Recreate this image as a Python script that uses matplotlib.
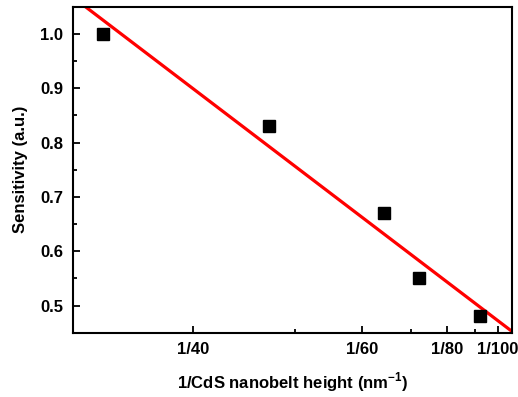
import numpy as np
import matplotlib
matplotlib.use("Agg")
import matplotlib.pyplot as plt

# Data
heights_nm = [34, 47, 64, 72, 92]          # CdS nanobelt height (nm)
sensitivity = [1.00, 0.83, 0.67, 0.55, 0.48]
tick_heights = [40, 60, 80, 100]
tick_labels = ["1/40", "1/60", "1/80", "1/100"]
minor_heights = [50, 70, 90]

plt.rcParams['font.family'] = ['Liberation Sans', 'DejaVu Sans']
plt.rcParams['font.weight'] = 'bold'
plt.rcParams['mathtext.fontset'] = 'custom'
plt.rcParams['mathtext.rm'] = 'Liberation Sans:bold'
plt.rcParams['mathtext.bf'] = 'Liberation Sans:bold'

x = 1.0 / np.array(heights_nm)
y = np.array(sensitivity)

fig = plt.figure(figsize=(5.18, 3.97), dpi=100)
ax = fig.add_axes([0.1409, 0.162, 0.8475, 0.8211])

xlim = (0.0309, 0.00931)
slope, intercept = np.polyfit(x, y, 1)
xf = np.linspace(0.04, 0.0, 50)
ax.plot(xf, slope * xf + intercept, color='#ff0000', lw=2.3, zorder=2)
ax.plot(x, y, 's', color='black', ms=8, zorder=3)

ax.set_xlim(*xlim)
ax.set_ylim(0.45, 1.05)

ax.set_xticks([1.0 / h for h in tick_heights])
ax.set_xticklabels(tick_labels)
ax.set_xticks([1.0 / h for h in minor_heights], minor=True)
ax.set_yticks([0.5, 0.6, 0.7, 0.8, 0.9, 1.0])
ax.set_yticklabels(["0.5", "0.6", "0.7", "0.8", "0.9", "1.0"])
ax.set_yticks(np.arange(0.55, 1.05, 0.1), minor=True)

ax.tick_params(which='both', direction='in', width=1.3, labelsize=12)
ax.tick_params(which='major', length=5, pad=7)
ax.tick_params(which='minor', length=3)
for lab in ax.get_xticklabels() + ax.get_yticklabels():
    lab.set_fontweight('bold')
for s in ax.spines.values():
    s.set_linewidth(1.5)

ax.set_xlabel(r"1/CdS nanobelt height (nm$^{\mathrm{-1}}$)", fontsize=12, fontweight='bold', labelpad=9)
ax.set_ylabel("Sensitivity (a.u.)", fontsize=12, fontweight='bold', labelpad=9)

fig.savefig("out.png", dpi=100)
